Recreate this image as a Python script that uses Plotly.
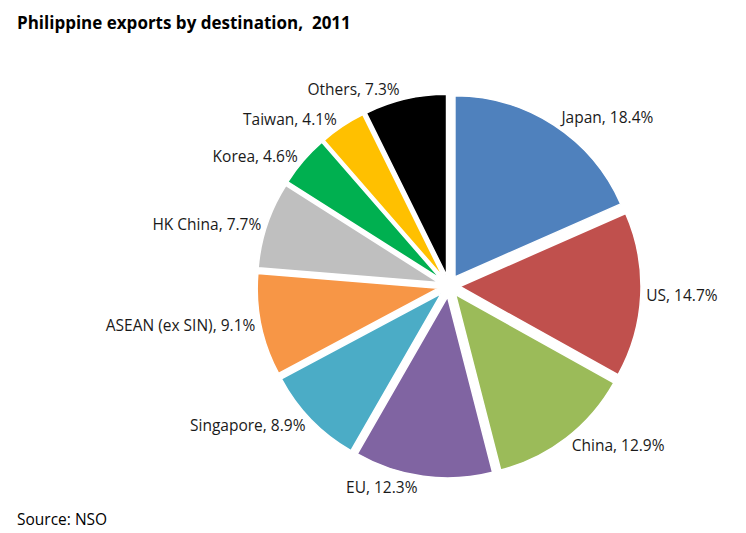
import plotly.graph_objects as go

categories = ["Japan", "US", "China", "EU", "Singapore", "ASEAN (ex SIN)",
              "HK China", "Korea", "Taiwan", "Others"]
shares = [18.4, 14.7, 12.9, 12.3, 8.9, 9.1, 7.7, 4.6, 4.1, 7.3]
colors = ["#4F81BD", "#C0504D", "#9BBB59", "#8064A2", "#4BACC6", "#F79646",
          "#BFBFBF", "#00B050", "#FFC000", "#000000"]

# page has an 8px body margin; figure coordinates are page minus 8
W, H = 738, 525
cx, cy, R = 441, 278, 192
FONT = "Open Sans, Liberation Sans, sans-serif"

fig = go.Figure(go.Pie(
    labels=categories,
    values=shares,
    sort=False,
    direction="clockwise",
    rotation=0,
    pull=[0.06] * len(categories),
    marker=dict(colors=colors, line=dict(color="white", width=1.5)),
    texttemplate="%{label}, %{value:.1f}%",
    textposition="outside",
    textfont=dict(family=FONT, size=15.5, color="#1a1a1a"),
    hoverinfo="label+value",
    showlegend=False,
    domain=dict(x=[(cx - R) / W, (cx + R) / W], y=[1 - (cy + R) / H, 1 - (cy - R) / H]),
))

fig.update_layout(
    width=W, height=H,
    margin=dict(l=0, r=0, t=0, b=0),
    paper_bgcolor="white",
    plot_bgcolor="white",
    annotations=[
        dict(text="<b>Philippine exports by destination,  2011</b>", x=7 / W, y=1 - 1 / H,
             xref="paper", yref="paper", xanchor="left", yanchor="top", showarrow=False,
             font=dict(family=FONT, size=17, color="#000")),
        dict(text="Source: NSO", x=7 / W, y=1 - 511 / H,
             xref="paper", yref="paper", xanchor="left", yanchor="middle", showarrow=False,
             font=dict(family=FONT, size=15.5, color="#000")),
    ],
)

fig.write_html("out.html")
